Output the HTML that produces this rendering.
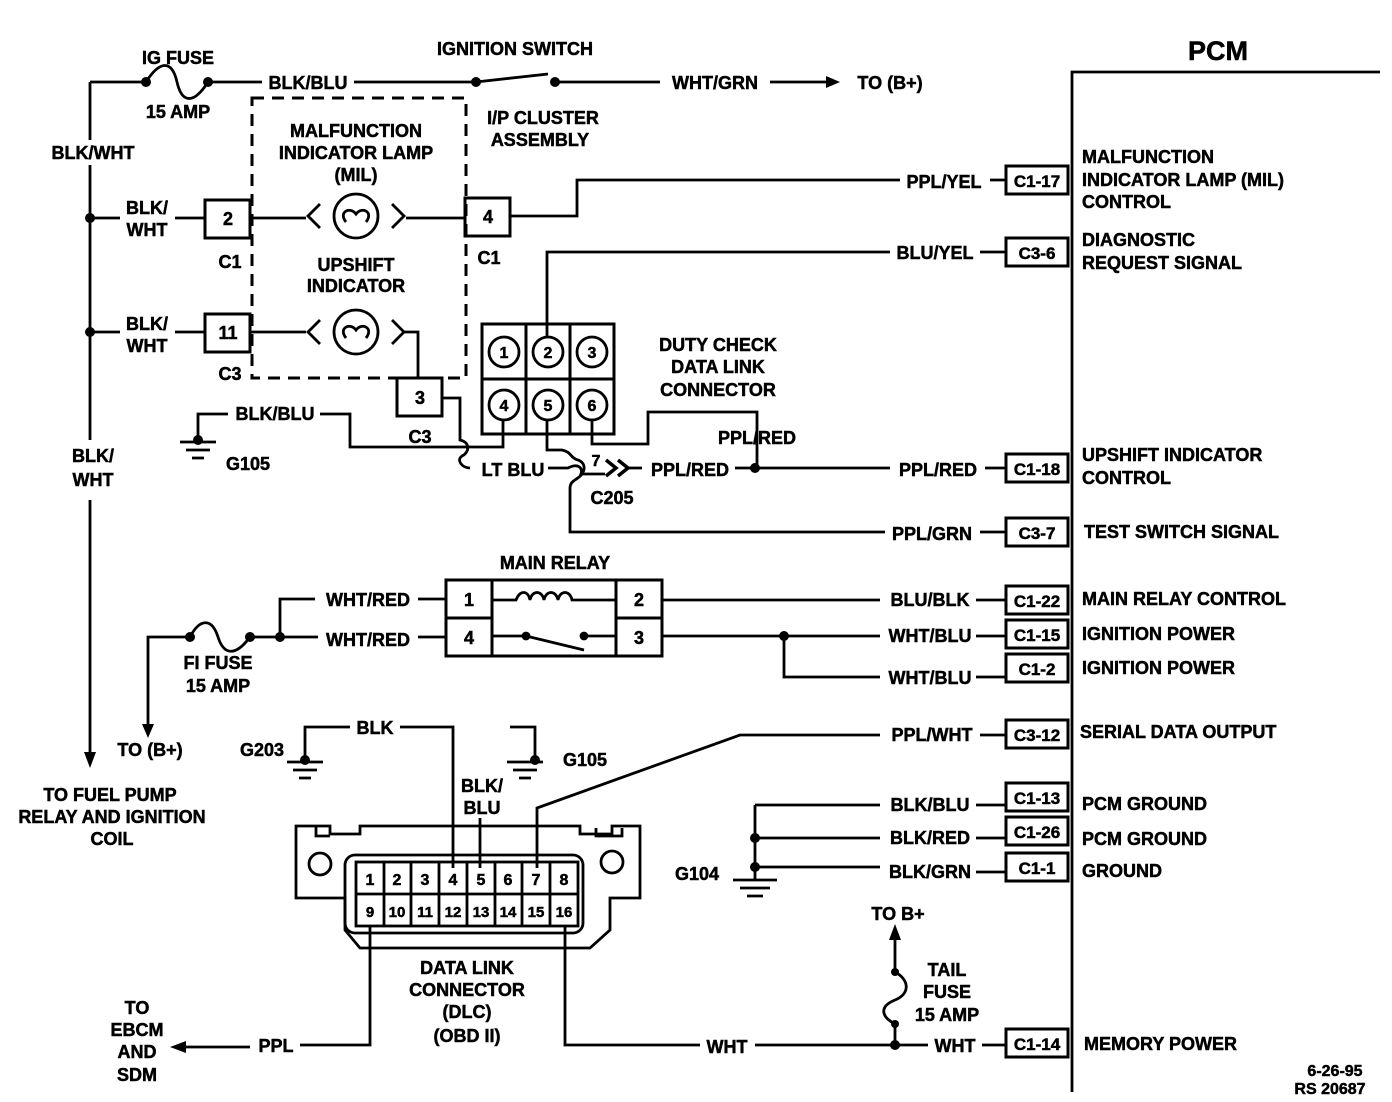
<!DOCTYPE html>
<html><head><meta charset="utf-8"><style>
html,body{margin:0;padding:0;background:#fff}
svg{display:block}
text{font-family:"Liberation Sans",Arial,sans-serif;font-weight:bold;font-size:18px;fill:#000;text-anchor:middle;stroke:#000;stroke-width:0.5}
.l{text-anchor:start}
</style></head><body>
<svg width="1392" height="1102" viewBox="0 0 1392 1102" xmlns="http://www.w3.org/2000/svg">
<g stroke="#000" stroke-width="2.8" fill="none">
<path d="M1072 1092V72H1380"/>
<g stroke-width="3">
<rect x="1006" y="166" width="62" height="28"/>
<rect x="1006" y="238" width="62" height="28"/>
<rect x="1006" y="454" width="62" height="28"/>
<rect x="1006" y="518" width="62" height="28"/>
<rect x="1006" y="586" width="62" height="28"/>
<rect x="1006" y="620" width="62" height="28"/>
<rect x="1006" y="654" width="62" height="28"/>
<rect x="1006" y="720" width="62" height="28"/>
<rect x="1006" y="783" width="62" height="28"/>
<rect x="1006" y="817" width="62" height="28"/>
<rect x="1006" y="853" width="62" height="28"/>
<rect x="1006" y="1029" width="62" height="28"/>
</g>
<path d="M90 82H146M208 82H262M354 82H476M476 82L548 74M555 82H660M770 82H830"/>
<path d="M146 82C160 60 172 60 177 82C182 104 194 104 208 82"/>
<path d="M90 82V140M90 165V440M90 500V755"/>
<path d="M90 218H120M175 218H205M90 332H120M175 332H205"/>
<rect x="205" y="200" width="45" height="38" stroke-width="3"/>
<rect x="205" y="314" width="45" height="38" stroke-width="3"/>
<rect x="465" y="198" width="45" height="38" stroke-width="3"/>
<rect x="397" y="378" width="45" height="38" stroke-width="3"/>
<rect x="252" y="98" width="214" height="280" stroke-dasharray="12,8" stroke-width="3"/>
<path d="M250 218H306M406 218H465M250 332H306M402 332H418V378"/>
<circle cx="356" cy="216" r="22"/><circle cx="356" cy="332" r="22"/>
<path d="M320 204L308 216L320 228M392 204L404 216L392 228M320 320L308 332L320 344M392 320L404 332L392 344"/>
<path d="M346 222c-8-10 4-16 10-8c6-8 18-2 10 8M346 338c-8-10 4-16 10-8c6-8 18-2 10 8"/>
<path d="M510 216H577V180H900M990 180H1006"/>
<rect x="482" y="324" width="132" height="110" stroke-width="3"/>
<path d="M526 324V434M570 324V434M482 379H614" stroke-width="3"/>
<circle cx="504" cy="352" r="15"/><circle cx="548" cy="352" r="15"/><circle cx="592" cy="352" r="15"/>
<circle cx="504" cy="405" r="15"/><circle cx="548" cy="405" r="15"/><circle cx="592" cy="405" r="15"/>
<path d="M547 337V252H890M980 252H1006"/>
<path d="M592 420V444H648V412H757V468"/>
<path d="M735 468H890M985 468H1006"/>
<path d="M547 420V450H562C572 452 570 458 578 460C584 462 586 468 582 474C578 480 570 480 570 488V532H885M980 532H1006"/>
<path d="M503 420V447H350V414H320M228 414H198V440"/>
<path d="M180 442H216M186 450H210M192 458H204"/>
<path d="M442 398H460V440C470 442 470 452 462 456C456 460 462 468 470 468M548 468H568C580 462 584 470 580 476"/>
<path d="M582 474H605"/>
<path d="M606 460L616 468L606 476M618 460L628 468L618 476" stroke-width="3.5"/>
<path d="M628 468H642"/>
<rect x="446" y="580" width="216" height="76" stroke-width="3"/>
<path d="M492 580V656M616 580V656M446 618H492M616 618H662" stroke-width="3"/>
<path d="M492 600H516c4-10 12-10 14 0c2-10 12-10 14 0c2-10 12-10 14 0c2-10 12-10 14 0H616M492 636H524M586 636H616M526 636L584 650"/>
<circle cx="526" cy="636" r="3" fill="#000"/><circle cx="584" cy="636" r="3" fill="#000"/>
<path d="M280 637V599H315M418 599H446M280 637H318M418 637H446M250 637H280"/>
<path d="M190 637C200 618 212 618 218 637C224 656 236 656 250 637M190 637H148V730"/>
<path d="M662 600H880M976 600H1006M662 636H880M976 636H1006M784 636V677H880M976 677H1006"/>
<path d="M880 735H740L537 808V868M980 735H1006"/>
<path d="M755 805H880M755 838H880M755 867H880M755 805V880M976 805H1006M976 838H1006M976 872H1006"/>
<path d="M733 880H777M740 888H770M747 896H763"/>
<path d="M296 826H330V834H360V826H580V834H612V826H640V898H610V930L590 948H360L345 930V898H296Z"/>
<path d="M316 826V836H330M596 828V836H622V828"/>
<circle cx="320" cy="864" r="11"/><circle cx="612" cy="862" r="11"/>
<rect x="345" y="855" width="238" height="78" rx="10"/>
<rect x="356" y="862" width="222" height="64"/>
<path d="M384 862V926M411 862V926M439 862V926M467 862V926M495 862V926M522 862V926M550 862V926M356 894H578"/>
<path d="M305 760V727H350M400 727H453V868M510 727H535V760"/>
<path d="M287 762H323M293 770H317M299 778H311M507 762H543M513 770H537M519 778H531"/>
<path d="M480 818V868"/>
<path d="M370 926V1045H300M250 1047H178M565 926V1045H700M755 1045H928M982 1045H1006"/>
<path d="M895 1045V1024C880 1016 880 1006 895 1000C910 994 910 980 895 972V940"/>
</g>
<g fill="#000">
<path d="M840 82L826 76V88Z"/><path d="M90 768L84 752H96Z"/><path d="M148 738L142 724H154Z"/>
<path d="M170 1047L186 1041V1053Z"/><path d="M895 924L889 940H901Z"/>
<circle cx="90" cy="218" r="5"/><circle cx="90" cy="332" r="5"/><circle cx="476" cy="82" r="5"/><circle cx="555" cy="82" r="5"/>
<circle cx="146" cy="82" r="5"/><circle cx="208" cy="82" r="5"/><circle cx="755" cy="468" r="5"/>
<circle cx="190" cy="637" r="5"/><circle cx="250" cy="637" r="5"/><circle cx="280" cy="637" r="5"/>
<circle cx="784" cy="636" r="5"/><circle cx="755" cy="838" r="5"/><circle cx="755" cy="867" r="5"/>
<circle cx="198" cy="440" r="5"/><circle cx="305" cy="760" r="5"/><circle cx="535" cy="760" r="5"/>
<circle cx="895" cy="1045" r="5"/><circle cx="895" cy="1024" r="4"/><circle cx="895" cy="972" r="4"/>
</g>
<text x="1218" y="60" style="font-size:27px">PCM</text>
<text x="178" y="64">IG FUSE</text><text x="178" y="118">15 AMP</text>
<text x="308" y="89">BLK/BLU</text>
<text x="515" y="55">IGNITION SWITCH</text>
<text x="715" y="89">WHT/GRN</text><text x="890" y="89">TO (B+)</text>
<text x="93" y="159">BLK/WHT</text>
<text x="147" y="214">BLK/</text><text x="147" y="236">WHT</text>
<text x="147" y="330">BLK/</text><text x="147" y="352">WHT</text>
<text x="228" y="225">2</text><text x="228" y="339">11</text><text x="488" y="223">4</text><text x="420" y="404">3</text>
<text x="230" y="268">C1</text><text x="230" y="380">C3</text><text x="489" y="264">C1</text><text x="420" y="443">C3</text>
<text x="356" y="137">MALFUNCTION</text><text x="356" y="159">INDICATOR LAMP</text><text x="356" y="181">(MIL)</text>
<text x="356" y="271">UPSHIFT</text><text x="356" y="292">INDICATOR</text>
<text x="543" y="124">I/P CLUSTER</text><text x="540" y="146">ASSEMBLY</text>
<text x="93" y="462">BLK/</text><text x="93" y="486">WHT</text>
<text x="944" y="188">PPL/YEL</text><text x="935" y="259">BLU/YEL</text>
<text x="504" y="358" style="font-size:16px">1</text><text x="548" y="358" style="font-size:16px">2</text><text x="592" y="358" style="font-size:16px">3</text>
<text x="504" y="411" style="font-size:16px">4</text><text x="548" y="411" style="font-size:16px">5</text><text x="592" y="411" style="font-size:16px">6</text>
<text x="718" y="351">DUTY CHECK</text><text x="718" y="373">DATA LINK</text><text x="718" y="396">CONNECTOR</text>
<text x="757" y="444">PPL/RED</text>
<text x="275" y="420">BLK/BLU</text><text x="248" y="470">G105</text>
<text x="513" y="476">LT BLU</text><text x="596" y="466" style="font-size:16px">7</text>
<text x="690" y="476">PPL/RED</text><text x="612" y="504">C205</text>
<text x="938" y="476">PPL/RED</text><text x="932" y="540">PPL/GRN</text>
<text x="555" y="569">MAIN RELAY</text>
<text x="469" y="606">1</text><text x="469" y="644">4</text><text x="639" y="606">2</text><text x="639" y="644">3</text>
<text x="368" y="606">WHT/RED</text><text x="368" y="646">WHT/RED</text>
<text x="218" y="669">FI FUSE</text><text x="218" y="692">15 AMP</text>
<text x="150" y="756">TO (B+)</text>
<text x="930" y="606">BLU/BLK</text><text x="930" y="642">WHT/BLU</text><text x="930" y="684">WHT/BLU</text>
<text x="932" y="741">PPL/WHT</text>
<text x="930" y="811">BLK/BLU</text><text x="930" y="844">BLK/RED</text><text x="930" y="878">BLK/GRN</text>
<text x="697" y="880">G104</text>
<text x="375" y="734">BLK</text><text x="262" y="756">G203</text><text x="585" y="766">G105</text>
<text x="482" y="792">BLK/</text><text x="482" y="814">BLU</text>
<text x="110" y="801">TO FUEL PUMP</text><text x="112" y="823">RELAY AND IGNITION</text><text x="112" y="845">COIL</text>
<text x="370" y="885" style="font-size:16px">1</text><text x="397" y="885" style="font-size:16px">2</text><text x="425" y="885" style="font-size:16px">3</text><text x="453" y="885" style="font-size:16px">4</text><text x="481" y="885" style="font-size:16px">5</text><text x="508" y="885" style="font-size:16px">6</text><text x="536" y="885" style="font-size:16px">7</text><text x="564" y="885" style="font-size:16px">8</text>
<text x="370" y="917" style="font-size:15px">9</text><text x="397" y="917" style="font-size:15px">10</text><text x="425" y="917" style="font-size:15px">11</text><text x="453" y="917" style="font-size:15px">12</text><text x="481" y="917" style="font-size:15px">13</text><text x="508" y="917" style="font-size:15px">14</text><text x="536" y="917" style="font-size:15px">15</text><text x="564" y="917" style="font-size:15px">16</text>
<text x="467" y="974">DATA LINK</text><text x="467" y="996">CONNECTOR</text><text x="467" y="1018">(DLC)</text><text x="467" y="1042">(OBD II)</text>
<text x="276" y="1052">PPL</text>
<text x="137" y="1014">TO</text><text x="137" y="1036">EBCM</text><text x="137" y="1058">AND</text><text x="137" y="1081">SDM</text>
<text x="727" y="1053">WHT</text><text x="955" y="1052">WHT</text>
<text x="898" y="920">TO B+</text>
<text x="947" y="976">TAIL</text><text x="947" y="998">FUSE</text><text x="947" y="1021">15 AMP</text>
<text x="1335" y="1076" style="font-size:16px">6-26-95</text><text x="1330" y="1094" style="font-size:16px">RS 20687</text>
<text x="1037" y="187" style="font-size:17px">C1-17</text><text x="1037" y="259" style="font-size:17px">C3-6</text>
<text x="1037" y="475" style="font-size:17px">C1-18</text><text x="1037" y="539" style="font-size:17px">C3-7</text>
<text x="1037" y="607" style="font-size:17px">C1-22</text><text x="1037" y="641" style="font-size:17px">C1-15</text>
<text x="1037" y="675" style="font-size:17px">C1-2</text><text x="1037" y="741" style="font-size:17px">C3-12</text>
<text x="1037" y="804" style="font-size:17px">C1-13</text><text x="1037" y="838" style="font-size:17px">C1-26</text>
<text x="1037" y="874" style="font-size:17px">C1-1</text><text x="1037" y="1050" style="font-size:17px">C1-14</text>
<text class="l" x="1082" y="163">MALFUNCTION</text><text class="l" x="1082" y="186">INDICATOR LAMP (MIL)</text><text class="l" x="1082" y="208">CONTROL</text>
<text class="l" x="1082" y="246">DIAGNOSTIC</text><text class="l" x="1082" y="269">REQUEST SIGNAL</text>
<text class="l" x="1082" y="461">UPSHIFT INDICATOR</text><text class="l" x="1082" y="484">CONTROL</text>
<text class="l" x="1084" y="538">TEST SWITCH SIGNAL</text>
<text class="l" x="1082" y="605">MAIN RELAY CONTROL</text>
<text class="l" x="1082" y="640">IGNITION POWER</text><text class="l" x="1082" y="674">IGNITION POWER</text>
<text class="l" x="1080" y="738">SERIAL  DATA OUTPUT</text>
<text class="l" x="1082" y="810">PCM GROUND</text><text class="l" x="1082" y="845">PCM GROUND</text><text class="l" x="1082" y="877">GROUND</text>
<text class="l" x="1084" y="1050">MEMORY POWER</text>
</svg>
</body></html>
